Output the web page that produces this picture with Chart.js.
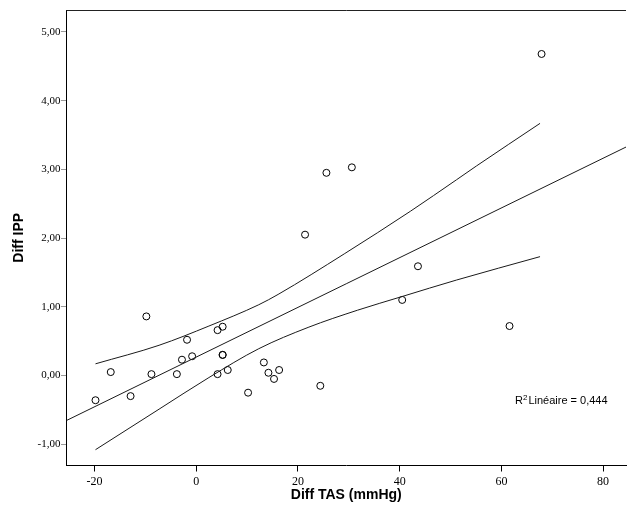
<!DOCTYPE html>
<html><head><meta charset="utf-8">
<script src="https://cdn.jsdelivr.net/npm/chart.js@4"></script>
<style>html,body{margin:0;padding:0;background:#fff}#w{width:631px;height:517px}</style>
</head><body><div id="w"><canvas id="c" width="631" height="517"></canvas></div>
<script>
// Observations (Diff TAS, Diff IPP)
const diffTAS = [-19.8, -16.8, -12.9, -9.8, -8.8, -3.8, -2.8, -1.8, -0.8, 4.2, 5.2, 5.2, 5.2, 4.2, 6.2, 10.2, 13.3, 14.2, 15.3, 16.3, 21.4, 24.4, 25.6, 30.6, 40.5, 43.6, 61.6, 67.9];
const diffIPP = [-0.36, 0.05, -0.30, 0.86, 0.02, 0.02, 0.23, 0.52, 0.28, 0.66, 0.71, 0.30, 0.30, 0.02, 0.08, -0.25, 0.19, 0.04, -0.05, 0.08, 2.05, -0.15, 2.95, 3.03, 1.10, 1.59, 0.72, 4.68];
// Linear fit line (read at plot edges)
const fitX = [-25.5, 84.5];
const fitY = [-0.655, 3.325];
// Confidence band curves
const ciUpperX = [-19.8, -7.3, 2.5, 12.3, 16.1, 29.1, 42.1, 51.2, 55.1, 67.6];
const ciUpperY = [0.17, 0.44, 0.72, 1.03, 1.18, 1.77, 2.39, 2.85, 3.05, 3.67];
const ciLowerX = [-19.8, -7.3, 2.5, 12.3, 22.0, 31.7, 40.5, 51.2, 67.6];
const ciLowerY = [-1.08, -0.49, -0.03, 0.39, 0.70, 0.95, 1.15, 1.39, 1.73];
// Ticks and labels
const xTicks = [-20, 0, 20, 40, 60, 80];
const yTicks = [-1, 0, 1, 2, 3, 4, 5];
const xTitle = "Diff TAS (mmHg)";
const yTitle = "Diff IPP";
const r2Value = "0,444";

const zip = (xs, ys) => xs.map((x, i) => ({x, y: ys[i]}));

const framePlugin = {
  id: 'frame',
  afterDraw(chart) {
    const {ctx, chartArea: a} = chart;
    ctx.save();
    ctx.strokeStyle = '#222';
    ctx.lineWidth = 1;
    ctx.beginPath();
    ctx.moveTo(a.left, Math.round(a.top) + 0.5);
    ctx.lineTo(a.right, Math.round(a.top) + 0.5);
    ctx.stroke();
    // R² annotation
    ctx.fillStyle = '#000';
    ctx.textBaseline = 'alphabetic';
    ctx.textAlign = 'left';
    let x = 515, y = 404;
    ctx.font = '11px "Liberation Sans", Arial, sans-serif';
    ctx.fillText('R', x, y);
    x += ctx.measureText('R').width;
    ctx.font = '8px "Liberation Sans", Arial, sans-serif';
    ctx.fillText('2', x, y - 4);
    x += ctx.measureText('2').width + 1;
    ctx.font = '11px "Liberation Sans", Arial, sans-serif';
    ctx.fillText('Linéaire = ' + r2Value, x, y);
    ctx.restore();
  }
};

const lineDs = (data, w) => ({
  type: 'line', data, showLine: true, borderColor: '#1a1a1a', borderWidth: w,
  pointRadius: 0, fill: false, tension: 0.4, cubicInterpolationMode: 'monotone'
});

new Chart(document.getElementById('c'), {
  type: 'scatter',
  data: {
    datasets: [
      lineDs(zip(fitX, fitY), 1),
      lineDs(zip(ciUpperX, ciUpperY), 1),
      lineDs(zip(ciLowerX, ciLowerY), 1),
      {
        type: 'scatter', data: zip(diffTAS, diffIPP),
        pointStyle: 'circle', pointRadius: 3.5, pointBorderWidth: 1,
        pointBackgroundColor: 'rgba(255,255,255,0)', pointBorderColor: '#000'
      }
    ]
  },
  options: {
    responsive: false, animation: false, devicePixelRatio: 1,
    layout: {padding: {top: 10, right: 0, left: 0, bottom: 0}},
    plugins: {legend: {display: false}, tooltip: {enabled: false}},
    scales: {
      x: {
        type: 'linear', min: -25.5, max: 84.5,
        afterFit: s => { s.height = 51.5; },
        afterBuildTicks: s => { s.ticks = xTicks.map(v => ({value: v})); },
        ticks: {color: '#000', padding: 3, font: {family: '"Liberation Serif", serif', size: 12},
          callback: v => String(v)},
        grid: {display: true, drawOnChartArea: false, drawTicks: true, tickLength: 6, tickColor: '#000', tickWidth: 1},
        border: {display: true, color: '#000', width: 1},
        title: {display: true, text: xTitle, color: '#000', padding: {top: 0, bottom: 13},
          font: {family: '"Liberation Sans", Arial, sans-serif', size: 14, weight: 'bold'}}
      },
      y: {
        type: 'linear', min: -1.31, max: 5.32,
        afterFit: s => { s.width = 66.5; },
        afterBuildTicks: s => { s.ticks = yTicks.map(v => ({value: v})); },
        ticks: {color: '#000', padding: 1, font: {family: '"Liberation Serif", serif', size: 11},
          callback: v => v.toFixed(2).replace('.', ',')},
        grid: {display: true, drawOnChartArea: false, drawTicks: true, tickLength: 5, tickColor: '#333', tickWidth: 1, tickBorderDash: [1, 1]},
        border: {display: true, color: '#000', width: 1},
        title: {display: true, text: yTitle, color: '#000', padding: {top: 11, bottom: 0},
          font: {family: '"Liberation Sans", Arial, sans-serif', size: 14, weight: 'bold'}}
      }
    }
  },
  plugins: [framePlugin]
});
</script>
</body></html>
